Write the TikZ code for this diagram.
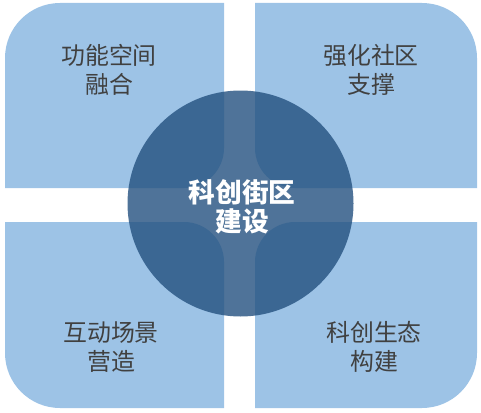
\documentclass[tikz,border=0pt]{standalone}
\usepackage{fontspec}
\newfontfamily\cjk{Noto Sans CJK SC}
\usetikzlibrary{calc}
\definecolor{quadblue}{HTML}{9DC3E6}
\definecolor{hubblue}{HTML}{23507F}
\definecolor{labelgray}{HTML}{404040}
\tikzset{
  quad/.style={fill=quadblue},
  label/.style={align=center, text=labelgray, font=\cjk\fontsize{17}{21}\selectfont},
}
\begin{document}
\begin{tikzpicture}[scale=0.025]
				\useasboundingbox (0,0) rectangle (481,412);
				\fill[quad] (5,224) -- (5,354) arc[start angle=180,end angle=90,radius=55] -- (224,409) -- (224,264) arc[start angle=0,end angle=-90,radius=40] -- cycle;
				\fill[quad] (477,224) -- (477,354) arc[start angle=0,end angle=90,radius=55] -- (255,409) -- (255,264) arc[start angle=180,end angle=270,radius=40] -- cycle;
				\fill[quad] (5,190) -- (5,59) arc[start angle=180,end angle=270,radius=55] -- (224,4) -- (224,150) arc[start angle=0,end angle=90,radius=40] -- cycle;
				\fill[quad] (477,190) -- (477,59) arc[start angle=0,end angle=-90,radius=55] -- (255,4) -- (255,150) arc[start angle=180,end angle=90,radius=40] -- cycle;
				\fill[hubblue, fill opacity=0.8] (240.5,208.5) circle (113);
				\node[label] (tl) at (109,342){功能空间\\融合};
				\node[label] (tr) at (371,342){强化社区\\支撑};
				\node[label] (bl) at (111,65){互动场景\\营造};
				\node[label] (br) at (374,65){科创生态\\构建};
				\node[align=center, text=white, font=\cjk\bfseries\fontsize{19}{21}\selectfont] (hub) at (242,205){科创街区\\建设};
			\end{tikzpicture}
\end{document}
